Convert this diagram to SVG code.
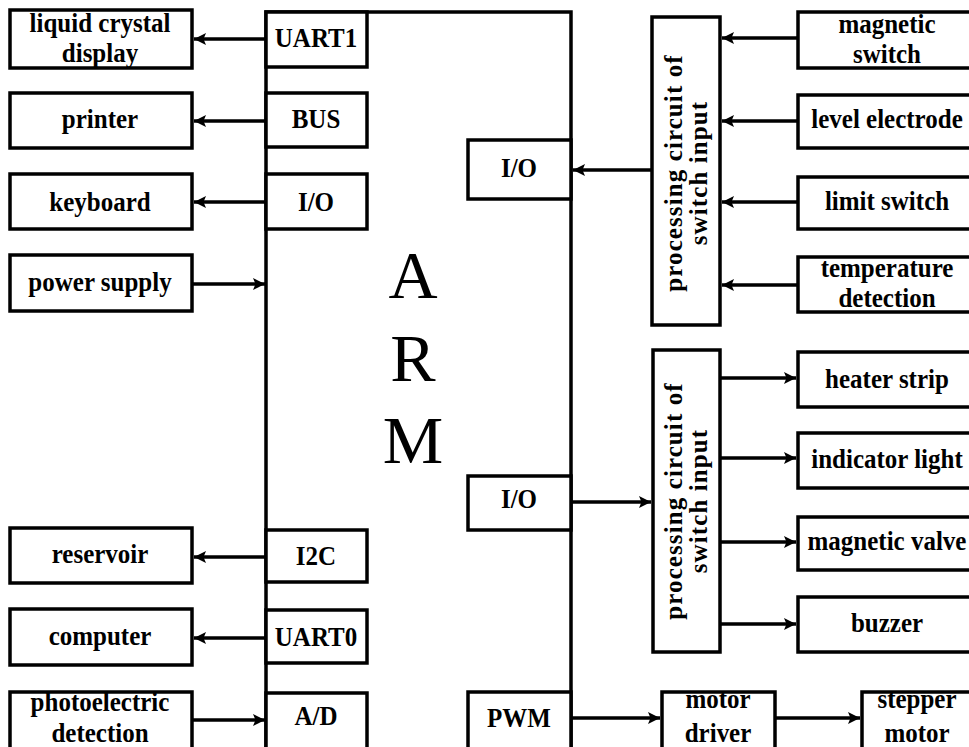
<svg xmlns="http://www.w3.org/2000/svg" width="969" height="747" viewBox="0 0 969 747">
<defs>
<style>
.b{fill:#fff;stroke:#000;stroke-width:3.5}
.t{font-family:"Liberation Serif","Times New Roman",serif;font-weight:bold;font-size:25px;text-anchor:middle;fill:#000}
.v{letter-spacing:1.1px}
.arm{font-family:"Liberation Serif","Times New Roman",serif;font-size:68px;text-anchor:middle;fill:#000}
.c{stroke:#000;stroke-width:3.5;fill:none;marker-end:url(#ah)}
</style>
<marker id="ah" markerUnits="userSpaceOnUse" markerWidth="14" markerHeight="14" refX="12" refY="7" orient="auto">
<path d="M0,1 L12,7 L0,13 L2.5,7 z" fill="#000"/>
</marker>
</defs>
<rect width="969" height="747" fill="#fff"/>

<g id="arm">
<rect class="b" x="266" y="12" width="305" height="745"/>
<text class="arm" x="413" y="298">A</text>
<text class="arm" x="413" y="381">R</text>
<text class="arm" x="413" y="463">M</text>
</g>

<g id="uart1"><rect class="b" x="266" y="12" width="101" height="55"/><text class="t" transform="translate(316,47) scale(1,1.12)">UART1</text></g>
<g id="bus"><rect class="b" x="266" y="93" width="101" height="54"/><text class="t" transform="translate(316,128) scale(1,1.12)">BUS</text></g>
<g id="io-left"><rect class="b" x="266" y="174" width="101" height="55"/><text class="t" transform="translate(316,211) scale(1,1.12)">I/O</text></g>
<g id="i2c"><rect class="b" x="266" y="530" width="101" height="52"/><text class="t" transform="translate(316,565) scale(1,1.12)">I2C</text></g>
<g id="uart0"><rect class="b" x="266" y="610" width="101" height="53"/><text class="t" transform="translate(316,646) scale(1,1.12)">UART0</text></g>
<g id="ad"><rect class="b" x="266" y="693" width="101" height="60"/><text class="t" transform="translate(316,725) scale(1,1.12)">A/D</text></g>

<g id="io-top"><rect class="b" x="468" y="140" width="103" height="59"/><text class="t" transform="translate(519,177) scale(1,1.12)">I/O</text></g>
<g id="io-bottom"><rect class="b" x="468" y="476" width="103" height="54"/><text class="t" transform="translate(519,508) scale(1,1.12)">I/O</text></g>
<g id="pwm"><rect class="b" x="468" y="692" width="103" height="60"/><text class="t" transform="translate(519,727) scale(1,1.12)">PWM</text></g>

<g id="lcd"><rect class="b" x="10" y="10" width="182" height="58"/><text class="t" transform="translate(100,32) scale(1,1.12)">liquid crystal</text><text class="t" transform="translate(100,62) scale(1,1.12)">display</text></g>
<g id="printer"><rect class="b" x="10" y="93" width="182" height="55"/><text class="t" transform="translate(100,128) scale(1,1.12)">printer</text></g>
<g id="keyboard"><rect class="b" x="10" y="174" width="182" height="55"/><text class="t" transform="translate(100,211) scale(1,1.12)">keyboard</text></g>
<g id="power"><rect class="b" x="10" y="255" width="182" height="56"/><text class="t" transform="translate(100,291) scale(1,1.12)">power supply</text></g>
<g id="reservoir"><rect class="b" x="10" y="528" width="182" height="55"/><text class="t" transform="translate(100,563) scale(1,1.12)">reservoir</text></g>
<g id="computer"><rect class="b" x="10" y="609" width="182" height="56"/><text class="t" transform="translate(100,645) scale(1,1.12)">computer</text></g>
<g id="photo"><rect class="b" x="10" y="692" width="182" height="60"/><text class="t" transform="translate(100,711) scale(1,1.12)">photoelectric</text><text class="t" transform="translate(100,742) scale(1,1.12)">detection</text></g>

<g id="proc-in"><rect class="b" x="652" y="17" width="68" height="308"/>
<g transform="translate(686,173) rotate(-90)"><text class="t v" x="0" y="-4">processing circuit of</text><text class="t v" x="0" y="21">switch input</text></g></g>
<g id="proc-out"><rect class="b" x="653" y="350" width="67" height="302"/>
<g transform="translate(686,501) rotate(-90)"><text class="t v" x="0" y="-4">processing circuit of</text><text class="t v" x="0" y="21">switch input</text></g></g>

<g id="mag-switch"><rect class="b" x="798" y="12" width="180" height="56"/><text class="t" transform="translate(887,33) scale(1,1.12)">magnetic</text><text class="t" transform="translate(887,63) scale(1,1.12)">switch</text></g>
<g id="level"><rect class="b" x="798" y="95" width="180" height="53"/><text class="t" transform="translate(887,128) scale(1,1.12)">level electrode</text></g>
<g id="limit"><rect class="b" x="798" y="177" width="180" height="52"/><text class="t" transform="translate(887,210) scale(1,1.12)">limit switch</text></g>
<g id="temp"><rect class="b" x="798" y="257" width="180" height="55"/><text class="t" transform="translate(887,277) scale(1,1.12)">temperature</text><text class="t" transform="translate(887,307) scale(1,1.12)">detection</text></g>
<g id="heater"><rect class="b" x="798" y="352" width="180" height="55"/><text class="t" transform="translate(887,388) scale(1,1.12)">heater strip</text></g>
<g id="indicator"><rect class="b" x="798" y="433" width="180" height="55"/><text class="t" transform="translate(887,468) scale(1,1.12)">indicator light</text></g>
<g id="valve"><rect class="b" x="798" y="517" width="180" height="53"/><text class="t" transform="translate(887,550) scale(1,1.12)">magnetic valve</text></g>
<g id="buzzer"><rect class="b" x="798" y="597" width="180" height="55"/><text class="t" transform="translate(887,632) scale(1,1.12)">buzzer</text></g>
<g id="motor-driver"><rect class="b" x="662" y="692" width="113" height="60"/><text class="t" transform="translate(718,708) scale(1,1.12)">motor</text><text class="t" transform="translate(718,742) scale(1,1.12)">driver</text></g>
<g id="stepper"><rect class="b" x="862" y="692" width="110" height="60"/><text class="t" transform="translate(917,708) scale(1,1.12)">stepper</text><text class="t" transform="translate(917,742) scale(1,1.12)">motor</text></g>

<g id="connectors">
<line class="c" x1="266" y1="39" x2="194" y2="39"/>
<line class="c" x1="266" y1="121" x2="194" y2="121"/>
<line class="c" x1="266" y1="202" x2="194" y2="202"/>
<line class="c" x1="192" y1="284" x2="265" y2="284"/>
<line class="c" x1="266" y1="557" x2="194" y2="557"/>
<line class="c" x1="266" y1="638" x2="194" y2="638"/>
<line class="c" x1="192" y1="720" x2="265" y2="720"/>
<line class="c" x1="652" y1="170" x2="573" y2="170"/>
<line class="c" x1="798" y1="38" x2="722" y2="38"/>
<line class="c" x1="798" y1="121" x2="722" y2="121"/>
<line class="c" x1="798" y1="202" x2="722" y2="202"/>
<line class="c" x1="798" y1="285" x2="722" y2="285"/>
<line class="c" x1="571" y1="502" x2="651" y2="502"/>
<line class="c" x1="720" y1="378" x2="796" y2="378"/>
<line class="c" x1="720" y1="458" x2="796" y2="458"/>
<line class="c" x1="720" y1="542" x2="796" y2="542"/>
<line class="c" x1="720" y1="624" x2="796" y2="624"/>
<line class="c" x1="571" y1="718" x2="660" y2="718"/>
<line class="c" x1="775" y1="718" x2="860" y2="718"/>
</g>
</svg>
